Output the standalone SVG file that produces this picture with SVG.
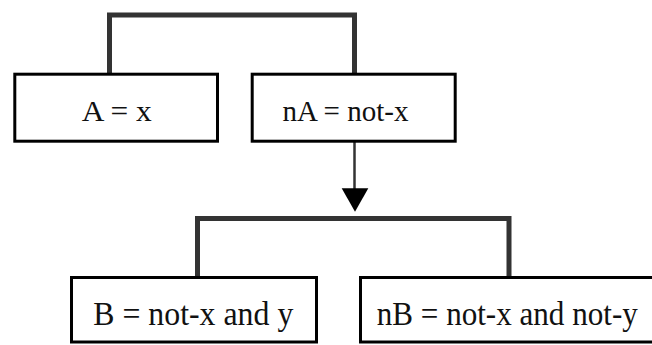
<svg xmlns="http://www.w3.org/2000/svg" width="652" height="345" viewBox="0 0 652 345">
<style>
.box{fill:#fff;stroke:#000;stroke-width:3}
.lbl{font-family:"Liberation Serif","Times New Roman",serif;font-size:30px;fill:#111;text-anchor:middle}
.big{font-size:33px}
.br{fill:none;stroke:#333;stroke-width:5}
.ln{fill:none;stroke:#333;stroke-width:2.5}
</style>
<rect width="652" height="345" fill="#fff"/>
<g id="connectors">
<polyline class="br" points="109.5,74 109.5,15 354.5,15 354.5,74"/>
<line class="ln" x1="354.5" y1="142" x2="354.5" y2="190"/>
<polygon points="341.7,188.3 368.3,188.3 355,211.7" fill="#000"/>
<polyline class="br" points="197.5,277 197.5,218.5 509,218.5 509,277"/>
</g>
<g id="nodeA">
<rect class="box" x="14.8" y="74.2" width="202.7" height="67"/>
<text class="lbl" x="116.7" y="120.7" textLength="70" lengthAdjust="spacingAndGlyphs">A = x</text>
</g>
<g id="nodeNA">
<rect class="box" x="252.2" y="74.2" width="203" height="67"/>
<text class="lbl" x="345.5" y="120.7" textLength="126" lengthAdjust="spacingAndGlyphs">nA = not-x</text>
</g>
<g id="nodeB">
<rect class="box" x="71.5" y="277.5" width="245" height="64.5"/>
<text class="lbl big" x="193.3" y="325" textLength="200" lengthAdjust="spacingAndGlyphs">B = not-x and y</text>
</g>
<g id="nodeNB">
<rect class="box" x="360.5" y="277.5" width="295" height="64.5"/>
<text class="lbl big" x="507.3" y="325" textLength="261" lengthAdjust="spacingAndGlyphs">nB = not-x and not-y</text>
</g>
</svg>
